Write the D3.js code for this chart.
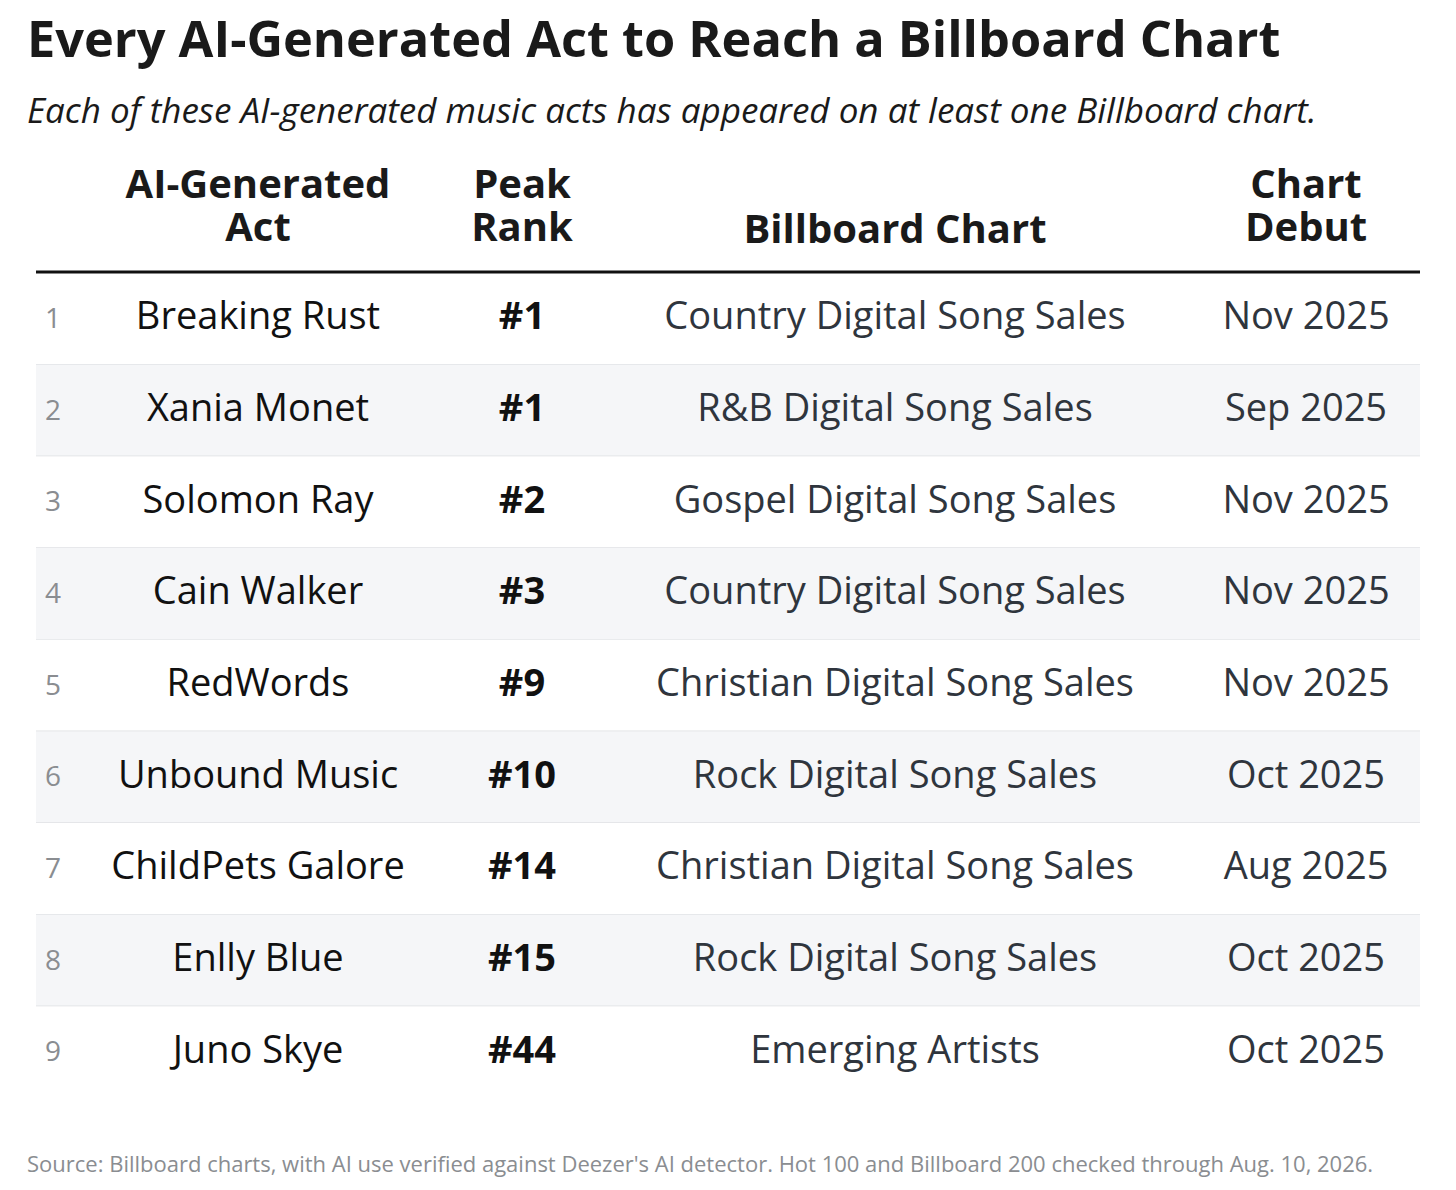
<!DOCTYPE html>
<html>
<head>
<meta charset="utf-8">
<script src="https://cdn.jsdelivr.net/npm/d3@7"></script>
<style>
  body { margin: 0; background: #fff; }
  svg text { font-family: "Open Sans", "Noto Sans", sans-serif; }
</style>
</head>
<body>
<svg id="chart"></svg>
<script>
// table data
const acts = ["Breaking Rust", "Xania Monet", "Solomon Ray", "Cain Walker", "RedWords",
  "Unbound Music", "ChildPets Galore", "Enlly Blue", "Juno Skye"];
const peakRanks = [1, 1, 2, 3, 9, 10, 14, 15, 44];
const charts = ["Country Digital Song Sales", "R&B Digital Song Sales", "Gospel Digital Song Sales",
  "Country Digital Song Sales", "Christian Digital Song Sales", "Rock Digital Song Sales",
  "Christian Digital Song Sales", "Rock Digital Song Sales", "Emerging Artists"];
const debuts = ["Nov 2025", "Sep 2025", "Nov 2025", "Nov 2025", "Nov 2025",
  "Oct 2025", "Aug 2025", "Oct 2025", "Oct 2025"];
const headers = [["AI-Generated", "Act"], ["Peak", "Rank"], ["Billboard Chart"], ["Chart", "Debut"]];

const width = 1456, height = 1190;
const tableLeft = 36, tableRight = 1420;
const headLine = 272;

const svg = d3.select("#chart").attr("width", width).attr("height", height);

// title + subtitle
svg.append("text")
  .attr("x", 27).attr("y", 57)
  .attr("font-size", 50.5).attr("font-weight", 700).attr("fill", "#1a1a1a")
  .text("Every AI-Generated Act to Reach a Billboard Chart");

svg.append("text")
  .attr("x", 27).attr("y", 123)
  .attr("font-size", 35).attr("font-style", "italic").attr("fill", "#1a1a1a")
  .text("Each of these AI-generated music acts has appeared on at least one Billboard chart.");

// row scale
const rowIdx = d3.range(acts.length);
const y = d3.scaleBand().domain(rowIdx).range([headLine + 1, 1098]);

// column centres
const colX = [258, 522, 895, 1306];

// header labels (bottom aligned)
headers.forEach(function (lines, i) {
  lines.forEach(function (l, j) {
    svg.append("text")
      .attr("text-anchor", "middle")
      .attr("font-size", 40).attr("font-weight", 700).attr("fill", "#1a1a1a")
      .attr("x", colX[i])
      .attr("y", 241 - (lines.length - 1 - j) * 43 + (lines.length == 1 ? 2 : 0))
      .text(l);
  });
});

// stripes
const rows = svg.append("g").selectAll("g").data(rowIdx).enter().append("g");

rows.append("rect")
  .attr("x", tableLeft).attr("width", tableRight - tableLeft)
  .attr("y", d => y(d)).attr("height", y.bandwidth())
  .attr("fill", d => d % 2 == 1 ? "#f5f6f8" : "#fff");

rows.filter(d => d < acts.length - 1).append("line")
  .attr("x1", tableLeft).attr("x2", tableRight)
  .attr("y1", d => y(d) + y.bandwidth()).attr("y2", d => y(d) + y.bandwidth())
  .attr("stroke", "#dfe1e4").attr("stroke-width", 1.5);

const mid = d => y(d) + y.bandwidth() / 2;

rows.append("text")
  .attr("x", 53).attr("y", d => mid(d) + 9)
  .attr("text-anchor", "middle").attr("font-size", 28).attr("fill", "#8a8d91")
  .text(d => d + 1);

rows.append("text")
  .attr("x", colX[0]).attr("y", d => mid(d) + 10.5)
  .attr("text-anchor", "middle").attr("font-size", 38).attr("fill", "#111")
  .text(d => acts[d]);

rows.append("text")
  .attr("x", colX[1]).attr("y", d => mid(d) + 10.5)
  .attr("text-anchor", "middle").attr("font-size", 38).attr("font-weight", 700).attr("fill", "#111")
  .text(d => "#" + peakRanks[d]);

rows.append("text")
  .attr("x", colX[2]).attr("y", d => mid(d) + 10.5)
  .attr("text-anchor", "middle").attr("font-size", 38).attr("fill", "#2f353d")
  .text(d => charts[d]);

rows.append("text")
  .attr("x", colX[3]).attr("y", d => mid(d) + 10.5)
  .attr("text-anchor", "middle").attr("font-size", 38).attr("fill", "#2f353d")
  .text(d => debuts[d]);

// header rule
svg.append("line")
  .attr("x1", tableLeft).attr("x2", tableRight)
  .attr("y1", headLine).attr("y2", headLine)
  .attr("stroke", "#111").attr("stroke-width", 3);

// source note
svg.append("text")
  .attr("x", 27).attr("y", 1172)
  .attr("font-size", 22).attr("fill", "#8a8d91")
  .text("Source: Billboard charts, with AI use verified against Deezer's AI detector. Hot 100 and Billboard 200 checked through Aug. 10, 2026.");
</script>
</body>
</html>
